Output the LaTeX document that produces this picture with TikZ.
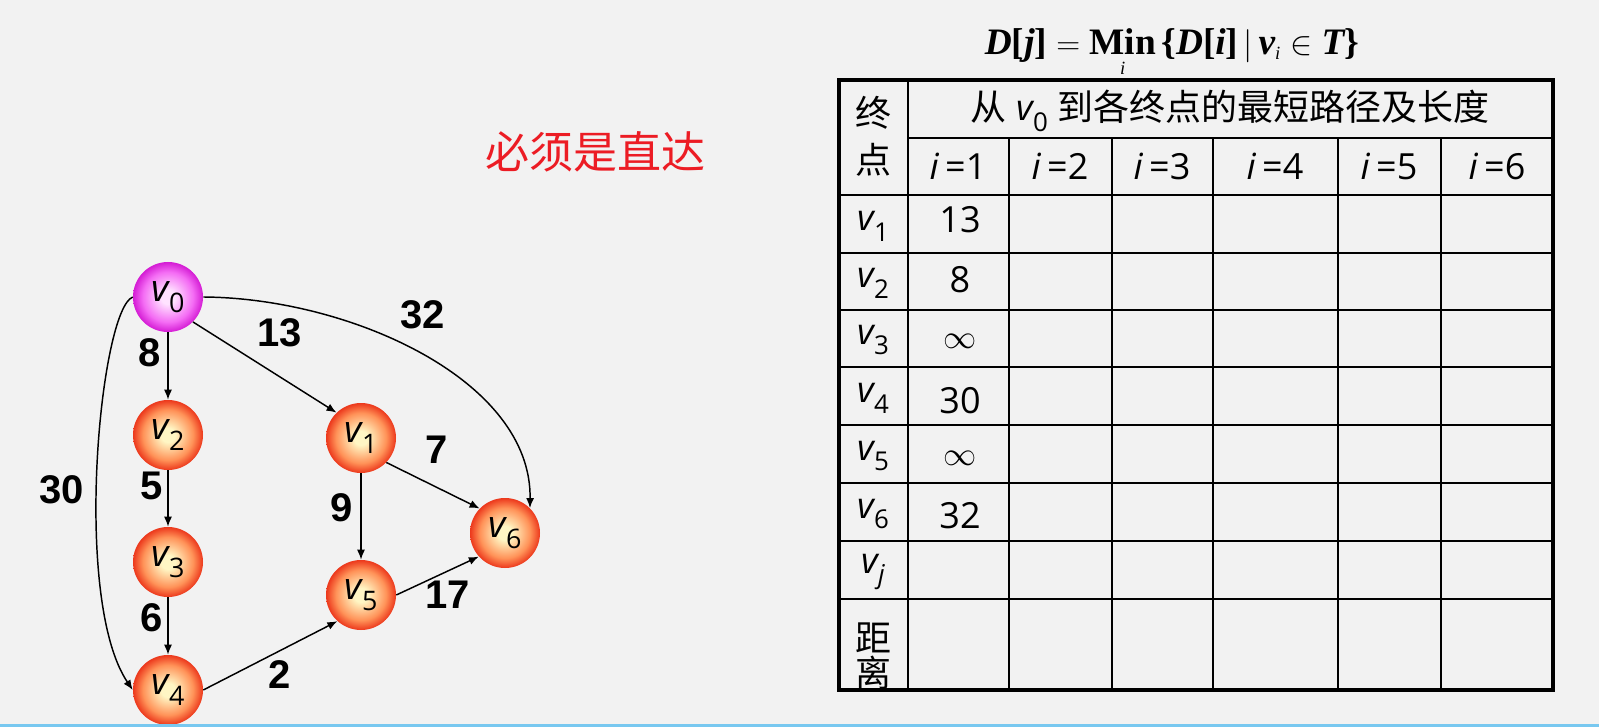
\documentclass[tikz,border=0pt]{standalone}
\usepackage{fontspec}
\usepackage{amsmath}
\setmainfont{Open Sans}
\newfontfamily\cjk{Noto Sans CJK SC}
\newfontfamily\wfont{Liberation Sans}
\newfontfamily\tnr{Liberation Serif}
\usetikzlibrary{arrows.meta}

\definecolor{paper}{RGB}{242,242,242}
\definecolor{ballcore}{RGB}{255,246,196}
\definecolor{ballmid}{RGB}{255,146,88}
\definecolor{ballrim}{RGB}{236,56,28}
\definecolor{startcore}{RGB}{255,226,255}
\definecolor{startmid}{RGB}{244,108,244}
\definecolor{startrim}{RGB}{212,28,212}
\definecolor{mustred}{RGB}{236,28,36}
\definecolor{slideblue}{RGB}{120,200,240}

\pgfdeclareradialshading{ballshade}{\pgfpoint{0bp}{0bp}}{color(0bp)=(ballcore); color(5bp)=(ballcore); color(18bp)=(ballmid); color(25bp)=(ballrim); color(50bp)=(ballrim)}
\pgfdeclareradialshading{startshade}{\pgfpoint{0bp}{0bp}}{color(0bp)=(startcore); color(5bp)=(startcore); color(18bp)=(startmid); color(25bp)=(startrim); color(50bp)=(startrim)}

\newcommand{\vlab}[1]{\textit{v}\kern-0.04em\raisebox{-0.3em}{\scalebox{0.72}{#1}}}
\newcommand{\ilab}[1]{\textit{i}\,=#1}
\newcommand{\fb}[1]{\mbox{\tnr\bfseries #1}}
\newcommand{\fbi}[1]{\mbox{\tnr\bfseries\itshape #1}}

\begin{document}
\begin{tikzpicture}[x=0.75pt,y=0.75pt,yscale=-1,xscale=1,
  ball/.style={circle,inner sep=0pt,minimum size=52.5pt,shading=ballshade,font=\fontsize{28}{30}\selectfont},
  startball/.style={ball,shading=startshade},
  edge/.style={line width=1.1pt,-{Latex[length=7.5pt,width=6pt]}},
  wlab/.style={font=\wfont\bfseries\fontsize{30}{34}\selectfont},
  cell/.style={font=\fontsize{27}{30}\selectfont},
  rule/.style={line width=1.4pt}]
\useasboundingbox (0,0) rectangle (1599,727);
%Shape: Rectangle
\fill [paper] (0,0) rectangle (1599,727);

% Text Node
\draw (595,152) node [text=mustred,font=\cjk\fontsize{33}{36}\selectfont] (must) {必须是直达};

%Shape: Circle
\draw (168,297) node [startball] (v0) {\vlab{0}};
%Shape: Circle
\draw (168,435) node [ball] (v2) {\vlab{2}};
%Shape: Circle
\draw (168,562) node [ball] (v3) {\vlab{3}};
%Shape: Circle
\draw (168,690) node [ball] (v4) {\vlab{4}};
%Shape: Circle
\draw (361,438) node [ball] (v1) {\vlab{1}};
%Shape: Circle
\draw (361,595) node [ball] (v5) {\vlab{5}};
%Shape: Circle
\draw (505,533) node [ball] (v6) {\vlab{6}};

%Straight Lines
\draw [edge] (v0) -- (v2) ;
%Straight Lines
\draw [edge] (v2) -- (v3) ;
%Straight Lines
\draw [edge] (v3) -- (v4) ;
%Straight Lines
\draw [edge] (v0.-45) -- (v1.134) ;
%Straight Lines
\draw [edge] (v1) -- (v5) ;
%Straight Lines
\draw [edge] (v1.-44) -- (v6.136) ;
%Straight Lines
\draw [edge] (v4.east) -- (v5.228) ;
%Straight Lines
\draw [edge] (v5.east) -- (v6.222) ;
%Curve Lines
\draw [edge] (v0.east) .. controls (350,298) and (532,380) .. (v6.north east) ;
%Curve Lines
\draw [edge] (v0.west) .. controls (100,310) and (72,600) .. (v4.west) ;

% Text Node
\draw (150,353) node [wlab] (w02) {8};
% Text Node
\draw (280,333) node [wlab] (w01) {13};
% Text Node
\draw (423,315) node [wlab] (w06) {32};
% Text Node
\draw (152,486) node [wlab] (w23) {5};
% Text Node
\draw (437,450) node [wlab] (w16) {7};
% Text Node
\draw (342,508) node [wlab] (w15) {9};
% Text Node
\draw (152,618) node [wlab] (w34) {6};
% Text Node
\draw (448,595) node [wlab] (w56) {17};
% Text Node
\draw (280,675) node [wlab] (w45) {2};
% Text Node
\draw (62,490) node [wlab] (w04) {30};

% Text Node
\draw (1172,55) node [anchor=base,font=\fontsize{28}{32}\selectfont] (rule) {$\fbi{D}\fb{[}\fbi{j}\fb{]}=\mathop{\fb{Min}}\limits_{\mbox{\tnr\itshape\fontsize{14}{14}\selectfont i}}\fb{\{}\fbi{D}\fb{[}\fbi{i}\fb{]}\,|\,\fbi{v}_{\mbox{\tnr\itshape\fontsize{14}{14}\selectfont i}}\in\fbi{T}\fb{\}}$};

%Shape: Rectangle
\draw [line width=3pt] (839,80) rectangle (1553,690) ;
%Straight Lines
\draw [rule] (908,80) -- (908,690) ;
\draw [rule] (1009,138) -- (1009,690) ;
\draw [rule] (1112,138) -- (1112,690) ;
\draw [rule] (1213,138) -- (1213,690) ;
\draw [rule] (1338,138) -- (1338,690) ;
\draw [rule] (1441,138) -- (1441,690) ;
%Straight Lines
\draw [rule] (908,138) -- (1553,138) ;
\draw [rule] (839,195) -- (1553,195) ;
\draw [rule] (839,253) -- (1553,253) ;
\draw [rule] (839,310) -- (1553,310) ;
\draw [rule] (839,367) -- (1553,367) ;
\draw [rule] (839,425) -- (1553,425) ;
\draw [rule] (839,483) -- (1553,483) ;
\draw [rule] (839,541) -- (1553,541) ;
\draw [rule] (839,599) -- (1553,599) ;

% Text Node
\draw (873,113) node [cell] (hd1) {\cjk 终};
% Text Node
\draw (873,160) node [cell] (hd2) {\cjk 点};
% Text Node
\draw (1230,111) node [cell] (title) {{\cjk 从} \vlab{0} {\cjk 到各终点的最短路径及长度}};
% Text Node
\draw (958,166) node [cell] (hi1) {\ilab{1}};
% Text Node
\draw (1060,166) node [cell] (hi2) {\ilab{2}};
% Text Node
\draw (1162,166) node [cell] (hi3) {\ilab{3}};
% Text Node
\draw (1275,166) node [cell] (hi4) {\ilab{4}};
% Text Node
\draw (1389,166) node [cell] (hi5) {\ilab{5}};
% Text Node
\draw (1497,166) node [cell] (hi6) {\ilab{6}};
% Text Node
\draw (873,226) node [cell] (rv1) {\vlab{1}};
% Text Node
\draw (873,283) node [cell] (rv2) {\vlab{2}};
% Text Node
\draw (873,340) node [cell] (rv3) {\vlab{3}};
% Text Node
\draw (873,398) node [cell] (rv4) {\vlab{4}};
% Text Node
\draw (873,456) node [cell] (rv5) {\vlab{5}};
% Text Node
\draw (873,514) node [cell] (rv6) {\vlab{6}};
% Text Node
\draw (873,572) node [cell] (rvj) {\vlab{\textit{j}}};
% Text Node
\draw (873,638) node [cell] (rd1) {\cjk 距};
% Text Node
\draw (873,673) node [cell] (rd2) {\cjk 离};
% Text Node
\draw (960,220) node [cell] (d1) {13};
% Text Node
\draw (960,280) node [cell] (d2) {8};
% Text Node
\draw (960,341) node [cell] (d3) {$\infty$};
% Text Node
\draw (960,401) node [cell] (d4) {30};
% Text Node
\draw (960,458) node [cell] (d5) {$\infty$};
% Text Node
\draw (960,516) node [cell] (d6) {32};

%Shape: Rectangle
\fill [slideblue] (0,724) rectangle (1599,727);

\end{tikzpicture}
\end{document}
